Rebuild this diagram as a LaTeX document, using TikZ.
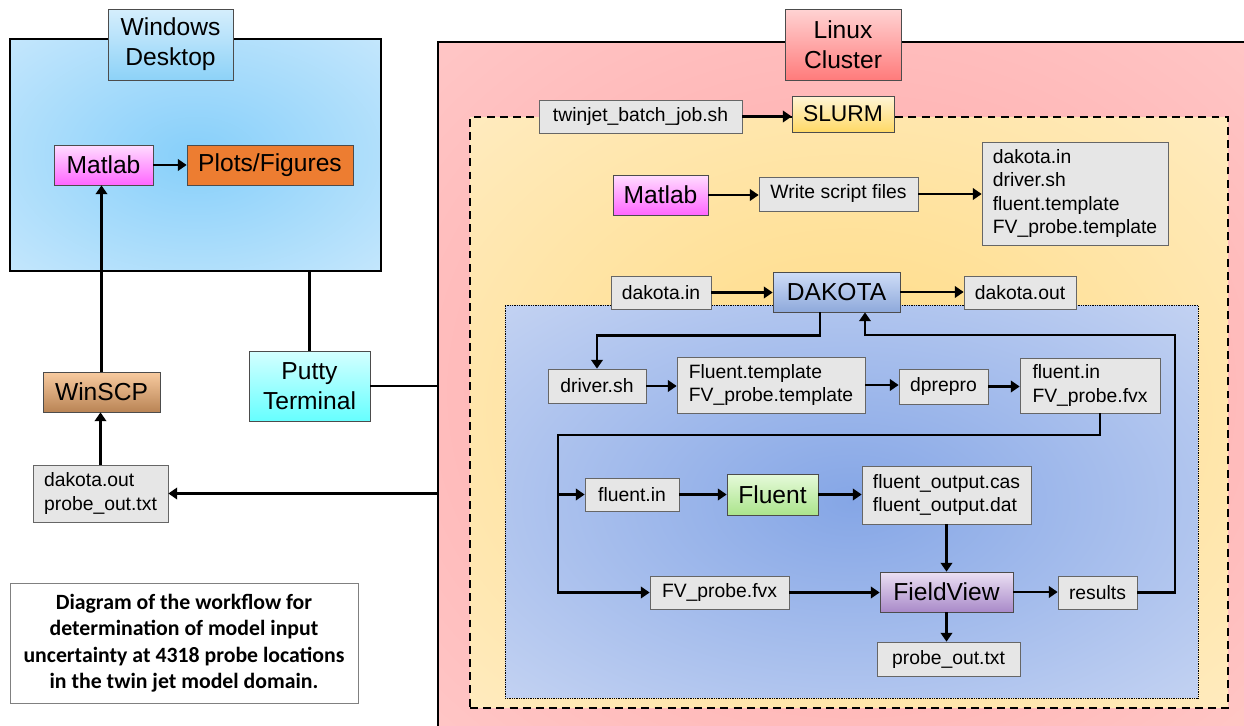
\documentclass[tikz,border=0pt]{standalone}
\usepackage{fontspec}
\setmainfont{Liberation Sans}
\newfontfamily\captionfont{Carlito}
\usetikzlibrary{arrows.meta,positioning}

\definecolor{filegray}{HTML}{E6E6E6}
\definecolor{winin}{HTML}{86CFFA}
\definecolor{winout}{HTML}{DDF0FD}
\definecolor{wintop}{HTML}{D5EEFC}
\definecolor{winbot}{HTML}{8DD2F8}
\definecolor{linuxin}{HTML}{FFA4A4}
\definecolor{linuxout}{HTML}{FFD4D4}
\definecolor{linuxtop}{HTML}{FFD3D3}
\definecolor{linuxbot}{HTML}{FF7B7B}
\definecolor{slurmin}{HTML}{FFDA80}
\definecolor{slurmout}{HTML}{FFF2D8}
\definecolor{dakin}{HTML}{85A6E6}
\definecolor{dakout}{HTML}{DCE4F7}
\definecolor{matlabtop}{HTML}{FFDDFF}
\definecolor{matlabbot}{HTML}{FF66FF}
\definecolor{plotsfill}{HTML}{ED7D31}
\definecolor{winscptop}{HTML}{F8CBA0}
\definecolor{winscpbot}{HTML}{B98455}
\definecolor{puttytop}{HTML}{D4FFFF}
\definecolor{puttybot}{HTML}{66FFFF}
\definecolor{slurmtop}{HTML}{FFF5D6}
\definecolor{slurmbot}{HTML}{FFD966}
\definecolor{dakotatop}{HTML}{CFDDF7}
\definecolor{dakotabot}{HTML}{8EA9DB}
\definecolor{fluenttop}{HTML}{E6FADA}
\definecolor{fluentbot}{HTML}{ABE48C}
\definecolor{fvtop}{HTML}{EBE0F3}
\definecolor{fvbot}{HTML}{A98AC9}

% radial glows that reach the edges of the container boxes
\pgfdeclareradialshading{winglow}{\pgfpoint{0bp}{0bp}}{color(0bp)=(winin); color(50bp)=(winout); color(72bp)=(winout)}
\pgfdeclareradialshading{linuxglow}{\pgfpoint{0bp}{0bp}}{color(0bp)=(linuxin); color(50bp)=(linuxout); color(72bp)=(linuxout)}
\pgfdeclareradialshading{slurmglow}{\pgfpoint{0bp}{0bp}}{color(0bp)=(slurmin); color(50bp)=(slurmout); color(72bp)=(slurmout)}
\pgfdeclareradialshading{dakglow}{\pgfpoint{0bp}{0bp}}{color(0bp)=(dakin); color(50bp)=(dakout); color(72bp)=(dakout)}

\begin{document}
\begin{tikzpicture}[x=0.02cm, y=-0.02cm, >={Triangle[length=5pt,width=6.5pt]},
  flow/.style={->, line width=1.6pt},
  link/.style={line width=1.6pt},
  filebox/.style={draw=black!60, fill=filegray, align=left, inner sep=0pt, font=\fontsize{11}{13.4}\selectfont},
  toolbox/.style={draw=black!70, inner sep=0pt, align=center, font=\fontsize{14}{17}\selectfont}]
\useasboundingbox (0,0) rectangle (1244,726);
\clip (0,0) rectangle (1244,726);

% containers
\node (linux) [draw, line width=0.8pt, shading=linuxglow, minimum width=16.48cm, minimum height=13.96cm] at (850,391) {};
\node (slurmarea) [draw, line width=0.8pt, dash pattern=on 4.5pt off 3pt, shading=slurmglow, minimum width=15.16cm, minimum height=11.82cm] at (849,412.5) {};
\node (dakarea) [draw, line width=0.5pt, dash pattern=on 0.5pt off 0.5pt, shading=dakglow, minimum width=13.86cm, minimum height=7.86cm] at (851.5,501.5) {};
\node (win) [draw, line width=0.8pt, shading=winglow, minimum width=7.42cm, minimum height=4.64cm] at (195.5,155) {};

\node (wintitle) [toolbox, top color=wintop, bottom color=winbot, minimum width=2.5cm, minimum height=1.42cm] at (170.5,44.5) {Windows\\Desktop};
\node (linuxtitle) [toolbox, top color=linuxtop, bottom color=linuxbot, minimum width=2.32cm, minimum height=1.42cm] at (843,44.5) {Linux\\Cluster};

% windows side
\node (winmatlab) [toolbox, top color=matlabtop, bottom color=matlabbot, minimum width=1.98cm, minimum height=0.8cm] at (103.5,165) {Matlab};
\node (plots) [toolbox, fill=plotsfill, minimum width=3.32cm, minimum height=0.8cm] at (270,165) {Plots/Figures};
\node (winscp) [toolbox, top color=winscptop, bottom color=winscpbot, minimum width=2.34cm, minimum height=0.8cm] at (101.5,392) {WinSCP};
\node (winfiles) [filebox, minimum width=2.7cm, minimum height=1.14cm] at (100.5,493.5) {dakota.out\\probe\_out.txt};
\node (putty) [toolbox, top color=puttytop, bottom color=puttybot, minimum width=2.42cm, minimum height=1.4cm] at (309.5,386) {Putty\\Terminal};
\node (caption) [draw=black!50, fill=white, minimum width=6.96cm, minimum height=2.4cm, align=center, font=\captionfont\bfseries\fontsize{12.4}{15.1}\selectfont] at (184,643) {Diagram of the workflow for\\determination of model input\\uncertainty at 4318 probe locations\\in the twin jet model domain.};

% cluster side
\node (twinjet) [filebox, minimum width=4.06cm, minimum height=0.66cm] at (640.5,116.5) {twinjet\_batch\_job.sh};
\node (slurm) [toolbox, top color=slurmtop, bottom color=slurmbot, minimum width=2.04cm, minimum height=0.72cm, font=\fontsize{13}{15}\selectfont] at (843,114) {SLURM};
\node (lmatlab) [toolbox, top color=matlabtop, bottom color=matlabbot, minimum width=1.9cm, minimum height=0.8cm] at (660.5,195) {Matlab};
\node (write) [filebox, minimum width=3.18cm, minimum height=0.68cm] at (838.5,194) {Write script files};
\node (scripts) [filebox, minimum width=3.72cm, minimum height=2.06cm] at (1075,193.5) {dakota.in\\driver.sh\\fluent.template\\FV\_probe.template};
\node (dakin) [filebox, minimum width=2.0cm, minimum height=0.66cm] at (661,292.5) {dakota.in};
\node (dakota) [toolbox, top color=dakotatop, bottom color=dakotabot, minimum width=2.54cm, minimum height=0.8cm] at (836.5,292) {DAKOTA};
\node (dakout) [filebox, minimum width=2.24cm, minimum height=0.66cm] at (1020,292.5) {dakota.out};
\node (driver) [filebox, minimum width=1.96cm, minimum height=0.68cm] at (597,386) {driver.sh};
\node (templ) [filebox, minimum width=3.76cm, minimum height=1.12cm] at (771,385) {Fluent.template\\FV\_probe.template};
\node (dprepro) [filebox, minimum width=1.78cm, minimum height=0.7cm] at (943.5,386.5) {dprepro};
\node (fluentfiles) [filebox, minimum width=2.8cm, minimum height=1.1cm] at (1090,385.5) {fluent.in\\FV\_probe.fvx};
\node (fluentin) [filebox, minimum width=1.88cm, minimum height=0.66cm] at (632,494.5) {fluent.in};
\node (fluent) [toolbox, top color=fluenttop, bottom color=fluentbot, minimum width=1.82cm, minimum height=0.82cm] at (772.5,494.5) {Fluent};
\node (fluentout) [filebox, minimum width=3.38cm, minimum height=1.16cm] at (946.5,495) {fluent\_output.cas\\fluent\_output.dat};
\node (fvprobe) [filebox, minimum width=2.78cm, minimum height=0.66cm] at (719.5,592.5) {FV\_probe.fvx};
\node (fieldview) [toolbox, top color=fvtop, bottom color=fvbot, minimum width=2.66cm, minimum height=0.8cm] at (946.5,592) {FieldView};
\node (results) [filebox, minimum width=1.58cm, minimum height=0.66cm] at (1097.5,592.5) {results};
\node (probeout) [filebox, minimum width=2.86cm, minimum height=0.68cm] at (948.5,659) {probe\_out.txt};

\coordinate (loopup) at (1175,335);
\coordinate (split) at (558,435);

% windows connectors
\draw[flow] (winmatlab) -- (plots);
\draw[flow] (winscp.north) -- (winscp.north |- winmatlab.south);
\draw[flow] (winfiles.north) -- (winfiles.north |- winscp.south);
\draw[link] (putty.north) -- (putty.north |- win.south);
\draw[link] (putty.east) -- (putty.east -| linux.west);
\draw[flow] (linux.west |- winfiles.east) -- (winfiles.east);

% cluster connectors
\draw[flow] (twinjet.east) -- (twinjet.east -| slurm.west);
\draw[flow] (lmatlab.east) -- (lmatlab.east -| write.west);
\draw[flow] (write.east) -- (write.east -| scripts.west);
\draw[flow] (dakin.east) -- (dakin.east -| dakota.west);
\draw[flow] (dakota.east) -- (dakota.east -| dakout.west);
\draw[flow] ([xshift=-0.33cm]dakota.south) -- ++(0,23) -| (driver.north);
\draw[flow] (results.east) -| (loopup) -| ([xshift=0.57cm]dakota.south);
\draw[flow] (driver.east) -- (driver.east -| templ.west);
\draw[flow] (templ.east) -- (templ.east -| dprepro.west);
\draw[flow] (dprepro.east) -- (dprepro.east -| fluentfiles.west);
\draw[flow] ([xshift=0.2cm]fluentfiles.south) |- (split) |- (fvprobe.west);
\draw[flow] (split |- fluentin.west) -- (fluentin.west);
\draw[flow] (fluentin) -- (fluent);
\draw[flow] (fluent.east) -- (fluent.east -| fluentout.west);
\draw[flow] (fluentout.south) -- (fieldview.north);
\draw[flow] (fvprobe.east) -- (fvprobe.east -| fieldview.west);
\draw[flow] (fieldview.east) -- (fieldview.east -| results.west);
\draw[flow] (fieldview.south) -- (fieldview.south |- probeout.north);
\end{tikzpicture}
\end{document}
